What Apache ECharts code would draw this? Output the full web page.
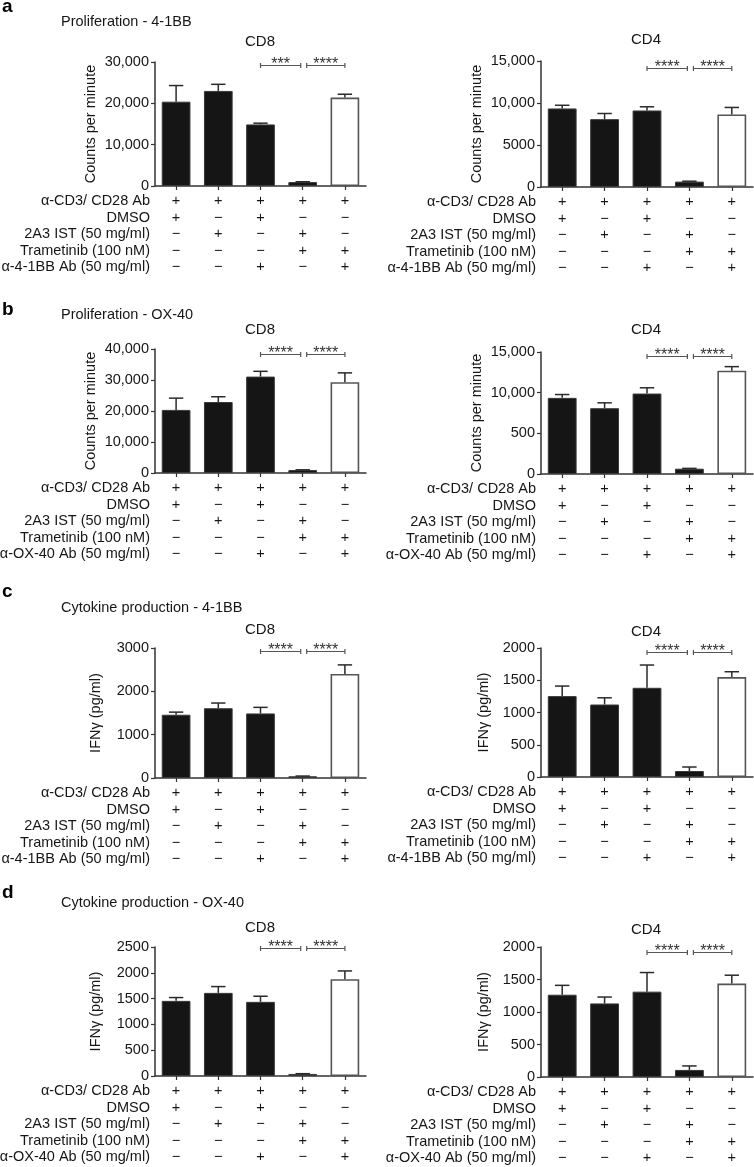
<!DOCTYPE html>
<html>
<head>
<meta charset="utf-8">
<script src="https://cdn.jsdelivr.net/npm/echarts@6/dist/echarts.min.js"></script>
<style>
html,body{margin:0;padding:0;background:#ffffff;}
#chart{width:754px;height:1167px;}
</style>
</head>
<body>
<div id="chart"></div>
<script>
// ---------------- DATA ----------------
const categories = ['G1', 'G2', 'G3', 'G4', 'G5'];

const rowLabels41BB = ['α-CD3/ CD28 Ab', 'DMSO', '2A3 IST (50 mg/ml)', 'Trametinib (100 nM)', 'α-4-1BB Ab (50 mg/ml)'];
const rowLabelsOX40 = ['α-CD3/ CD28 Ab', 'DMSO', '2A3 IST (50 mg/ml)', 'Trametinib (100 nM)', 'α-OX-40 Ab (50 mg/ml)'];

// treatment table: one row per label, one column per bar
const signRows = [
  ['+', '+', '+', '+', '+'],
  ['+', '−', '+', '−', '−'],
  ['−', '+', '−', '+', '−'],
  ['−', '−', '−', '+', '+'],
  ['−', '−', '+', '−', '+']
];

// a: Proliferation - 4-1BB
const aCD8Mean = [20400, 23000, 14900, 950, 21400];
const aCD8Sem  = [3900, 1600, 300, 80, 800];
const aCD4Mean = [9350, 8080, 9110, 640, 8630];
const aCD4Sem  = [380, 670, 440, 50, 840];
// b: Proliferation - OX-40
const bCD8Mean = [20350, 22900, 31100, 950, 29300];
const bCD8Sem  = [3800, 1700, 1700, 80, 3000];
const bCD4Mean = [9360, 8090, 9890, 650, 12700];
const bCD4Sem  = [410, 660, 710, 40, 500];
// c: Cytokine production - 4-1BB
const cCD8Mean = [1460, 1610, 1490, 40, 2400];
const cCD8Sem  = [60, 120, 140, 5, 210];
const cCD4Mean = [1254, 1124, 1383, 93, 1549];
const cCD4Sem  = [156, 104, 353, 62, 83];
// d: Cytokine production - OX-40
const dCD8Mean = [1456, 1611, 1437, 40, 1875];
const dCD8Sem  = [64, 122, 109, 5, 161];
const dCD4Mean = [1266, 1132, 1313, 109, 1437];
const dCD4Sem  = [144, 98, 294, 61, 129];

// y tick labels (bottom to top)
const aCD8Ticks = ['0', '10,000', '20,000', '30,000'];
const aCD4Ticks = ['0', '5000', '10,000', '15,000'];
const bCD8Ticks = ['0', '10,000', '20,000', '30,000', '40,000'];
const bCD4Ticks = ['0', '500', '10,000', '15,000'];
const cCD8Ticks = ['0', '1000', '2000', '3000'];
const cCD4Ticks = ['0', '500', '1000', '1500', '2000'];
const dCD8Ticks = ['0', '500', '1000', '1500', '2000', '2500'];
const dCD4Ticks = ['0', '500', '1000', '1500', '2000'];

// significance: [fromBar, toBar, bracket level]
const aCD8Sig = [[2, 3, 29350], [3, 4, 29350]];
const aCD8SigText = ['***', '****'];
const aCD4Sig = [[2, 3, 14200], [3, 4, 14200]];
const bCD8Sig = [[2, 3, 38400], [3, 4, 38400]];
const bCD4Sig = [[2, 3, 14550], [3, 4, 14550]];
const cCD8Sig = [[2, 3, 2930], [3, 4, 2930]];
const cCD4Sig = [[2, 3, 1940], [3, 4, 1940]];
const dCD8Sig = [[2, 3, 2490], [3, 4, 2490]];
const dCD4Sig = [[2, 3, 1917], [3, 4, 1917]];
const starText = ['****', '****'];

const sectionTitles = ['Proliferation - 4-1BB', 'Proliferation - OX-40', 'Cytokine production - 4-1BB', 'Cytokine production - OX-40'];
const panelLetters = ['a', 'b', 'c', 'd'];
const cellTitles = ['CD8', 'CD4'];
const yNameCounts = 'Counts per minute';
const yNameIFN = 'IFNγ (pg/ml)';

// ---------------- LAYOUT ----------------
const FONT = "'Liberation Sans', Arial, Helvetica, sans-serif";
const TXT = '#161616';
const AX = '#333333';

const panels = [
  {mean: aCD8Mean, sem: aCD8Sem, ticks: aCD8Ticks, max: 30000, interval: 10000, sig: aCD8Sig, stars: aCD8SigText, yName: yNameCounts, rows: rowLabels41BB, title: 0, left: 155, top: 62, height: 124, nameGap: 57, titleY: 42, w: 211},
  {mean: aCD4Mean, sem: aCD4Sem, ticks: aCD4Ticks, max: 15000, interval: 5000, sig: aCD4Sig, stars: starText, yName: yNameCounts, rows: rowLabels41BB, title: 1, left: 541, top: 61, height: 126, nameGap: 57, titleY: 40, w: 212},
  {mean: bCD8Mean, sem: bCD8Sem, ticks: bCD8Ticks, max: 40000, interval: 10000, sig: bCD8Sig, stars: starText, yName: yNameCounts, rows: rowLabelsOX40, title: 0, left: 155, top: 349, height: 124, nameGap: 57, titleY: 330, w: 211},
  {mean: bCD4Mean, sem: bCD4Sem, ticks: bCD4Ticks, max: 15000, interval: 5000, sig: bCD4Sig, stars: starText, yName: yNameCounts, rows: rowLabelsOX40, title: 1, left: 541, top: 352, height: 122, nameGap: 57, titleY: 330, w: 212},
  {mean: cCD8Mean, sem: cCD8Sem, ticks: cCD8Ticks, max: 3000, interval: 1000, sig: cCD8Sig, stars: starText, yName: yNameIFN, rows: rowLabels41BB, title: 0, left: 155, top: 648, height: 130, nameGap: 52, titleY: 630, w: 211},
  {mean: cCD4Mean, sem: cCD4Sem, ticks: cCD4Ticks, max: 2000, interval: 500, sig: cCD4Sig, stars: starText, yName: yNameIFN, rows: rowLabels41BB, title: 1, left: 541, top: 648, height: 129, nameGap: 50, titleY: 632, w: 212},
  {mean: dCD8Mean, sem: dCD8Sem, ticks: dCD8Ticks, max: 2500, interval: 500, sig: dCD8Sig, stars: starText, yName: yNameIFN, rows: rowLabelsOX40, title: 0, left: 155, top: 947, height: 129, nameGap: 52, titleY: 928, w: 211},
  {mean: dCD4Mean, sem: dCD4Sem, ticks: dCD4Ticks, max: 2000, interval: 500, sig: dCD4Sig, stars: starText, yName: yNameIFN, rows: rowLabelsOX40, title: 1, left: 541, top: 947, height: 130, nameGap: 50, titleY: 930, w: 212}
];
const sectionLayout = [
  {letterY: 16, titleY: 22},
  {letterY: 319, titleY: 315},
  {letterY: 601, titleY: 608},
  {letterY: 902, titleY: 903}
];

function txt(x, y, text, opt) {
  const o = Object.assign({size: 14.5, weight: 'normal', align: 'left', valign: 'middle', color: TXT}, opt || {});
  return {
    type: 'text', x: x, y: y, silent: true,
    style: {
      text: text, fill: o.color,
      font: o.weight + ' ' + o.size + 'px ' + FONT,
      align: o.align, textAlign: o.align,
      verticalAlign: o.valign, textVerticalAlign: o.valign
    }
  };
}

const grid = [], xAxis = [], yAxis = [], series = [], graphic = [];

sectionLayout.forEach((s, k) => {
  graphic.push(txt(2, s.letterY, panelLetters[k], {size: 19, weight: 'bold', valign: 'bottom', color: '#000'}));
  graphic.push(txt(61, s.titleY, sectionTitles[k]));
});

panels.forEach((p, k) => {
  const bottom = p.top + p.height;
  grid.push({left: p.left, top: p.top, width: p.w, height: p.height});
  xAxis.push({
    type: 'category', gridIndex: k, data: categories,
    axisLine: {show: true, lineStyle: {color: AX, width: 1.5}},
    axisTick: {show: true, alignWithLabel: true, length: 4, lineStyle: {color: AX, width: 1.2}},
    axisLabel: {
      interval: 0, margin: 7, fontSize: 14.5, lineHeight: 16.5, color: TXT, fontFamily: FONT,
      formatter: (v, i) => signRows.map(r => r[i]).join('\n')
    },
    splitLine: {show: false}
  });
  yAxis.push({
    type: 'value', gridIndex: k, min: 0, max: p.max, interval: p.interval,
    name: p.yName, nameLocation: 'middle', nameGap: p.nameGap,
    nameTextStyle: {fontSize: 14.5, color: TXT, fontFamily: FONT},
    axisLine: {show: true, lineStyle: {color: AX, width: 1.5}},
    axisTick: {show: true, length: 4, lineStyle: {color: AX, width: 1.2}},
    axisLabel: {margin: 6, fontSize: 14.5, color: TXT, fontFamily: FONT,
      formatter: (v) => p.ticks[Math.round(v / p.interval)]},
    splitLine: {show: false}
  });
  series.push({
    type: 'bar', xAxisIndex: k, yAxisIndex: k, barWidth: '68%', silent: true, animation: false,
    data: p.mean.map((v, i) => ({
      value: v,
      itemStyle: i === 4
        ? {color: '#ffffff', borderColor: '#555555', borderWidth: 1.6}
        : {color: '#151515', borderColor: '#3a3a3a', borderWidth: 1}
    }))
  });
  series.push({
    type: 'custom', xAxisIndex: k, yAxisIndex: k, silent: true, animation: false, z: 5,
    data: p.mean.map((v, i) => [i, v, v + p.sem[i]]),
    encode: {x: 0, y: [1, 2]},
    renderItem: (params, api) => {
      const i = api.value(0);
      const p0 = api.coord([i, api.value(1)]);
      const p1 = api.coord([i, api.value(2)]);
      const hw = api.size([1, 0])[0] * 0.68 / 4;
      const st = {stroke: '#2a2a2a', lineWidth: 1.5};
      return {type: 'group', children: [
        {type: 'line', shape: {x1: p0[0], y1: p0[1], x2: p1[0], y2: p1[1]}, style: st},
        {type: 'line', shape: {x1: p1[0] - hw, y1: p1[1], x2: p1[0] + hw, y2: p1[1]}, style: st}
      ]};
    }
  });
  series.push({
    type: 'custom', xAxisIndex: k, yAxisIndex: k, silent: true, animation: false, z: 6,
    data: p.sig,
    encode: {x: [0, 1], y: 2},
    renderItem: (params, api) => {
      const a = api.coord([api.value(0), api.value(2)]);
      const b = api.coord([api.value(1), api.value(2)]);
      const first = params.dataIndex === 0;
      const x1 = a[0] + (first ? 0 : 4), x2 = b[0] - (first ? 2 : 0);
      const y = Math.round(a[1]) + 0.5;
      const st = {stroke: '#555555', lineWidth: 1.2};
      return {type: 'group', children: [
        {type: 'line', shape: {x1: x1, y1: y, x2: x2, y2: y}, style: st},
        {type: 'line', shape: {x1: x1, y1: y - 2.5, x2: x1, y2: y + 2.5}, style: st},
        {type: 'line', shape: {x1: x2, y1: y - 2.5, x2: x2, y2: y + 2.5}, style: st},
        {type: 'text', x: (x1 + x2) / 2, y: y - 1, style: {
          text: p.stars[params.dataIndex], fill: '#333333', font: '16px ' + FONT,
          align: 'center', textAlign: 'center', verticalAlign: 'middle', textVerticalAlign: 'middle'}}
      ]};
    }
  });
  // cell title (CD8 / CD4)
  graphic.push(txt(p.left + 105, p.titleY, cellTitles[p.title], {align: 'center', size: 15}));
  // treatment row labels
  p.rows.forEach((r, i) => {
    graphic.push(txt(p.left - 5, bottom + 15 + i * 16.5, r, {align: 'right'}));
  });
});

const chart = echarts.init(document.getElementById('chart'), null, {renderer: 'canvas'});
chart.setOption({
  animation: false,
  backgroundColor: '#ffffff',
  textStyle: {fontFamily: FONT},
  grid: grid, xAxis: xAxis, yAxis: yAxis, series: series, graphic: graphic
});
</script>
</body>
</html>
